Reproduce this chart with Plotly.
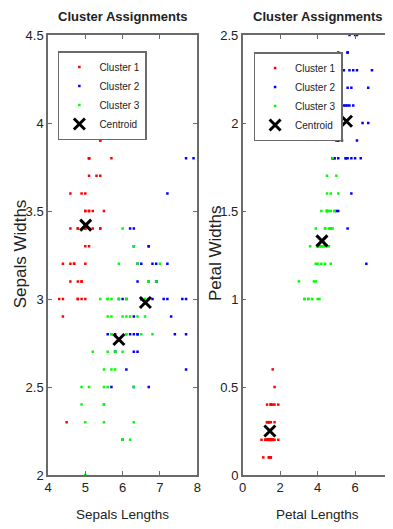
import plotly.graph_objects as go

# Iris measurements as shown in the chart (sample 106 plotted with petal width 1.2)
sepal_length = [
    5.1, 4.9, 4.7, 4.6, 5.0, 5.4, 4.6, 5.0, 4.4, 4.9, 5.4, 4.8, 4.8, 4.3, 5.8, 5.7, 5.4, 5.1, 5.7, 5.1,
    5.4, 5.1, 4.6, 5.1, 4.8, 5.0, 5.0, 5.2, 5.2, 4.7, 4.8, 5.4, 5.2, 5.5, 4.9, 5.0, 5.5, 4.9, 4.4, 5.1,
    5.0, 4.5, 4.4, 5.0, 5.1, 4.8, 5.1, 4.6, 5.3, 5.0,
    7.0, 6.4, 6.9, 5.5, 6.5, 5.7, 6.3, 4.9, 6.6, 5.2, 5.0, 5.9, 6.0, 6.1, 5.6, 6.7, 5.6, 5.8, 6.2, 5.6,
    5.9, 6.1, 6.3, 6.1, 6.4, 6.6, 6.8, 6.7, 6.0, 5.7, 5.5, 5.5, 5.8, 6.0, 5.4, 6.0, 6.7, 6.3, 5.6, 5.5,
    5.5, 6.1, 5.8, 5.0, 5.6, 5.7, 5.7, 6.2, 5.1, 5.7,
    6.3, 5.8, 7.1, 6.3, 6.5, 7.6, 4.9, 7.3, 6.7, 7.2, 6.5, 6.4, 6.8, 5.7, 5.8, 6.4, 6.5, 7.7, 7.7, 6.0,
    6.9, 5.6, 7.7, 6.3, 6.7, 7.2, 6.2, 6.1, 6.4, 7.2, 7.4, 7.9, 6.4, 6.3, 6.1, 7.7, 6.3, 6.4, 6.0, 6.9,
    6.7, 6.9, 5.8, 6.8, 6.7, 6.7, 6.3, 6.5, 6.2, 5.9,
]
sepal_width = [
    3.5, 3.0, 3.2, 3.1, 3.6, 3.9, 3.4, 3.4, 2.9, 3.1, 3.7, 3.4, 3.0, 3.0, 4.0, 4.4, 3.9, 3.5, 3.8, 3.8,
    3.4, 3.7, 3.6, 3.3, 3.4, 3.0, 3.4, 3.5, 3.4, 3.2, 3.1, 3.4, 4.1, 4.2, 3.1, 3.2, 3.5, 3.6, 3.0, 3.4,
    3.5, 2.3, 3.2, 3.5, 3.8, 3.0, 3.8, 3.2, 3.7, 3.3,
    3.2, 3.2, 3.1, 2.3, 2.8, 2.8, 3.3, 2.4, 2.9, 2.7, 2.0, 3.0, 2.2, 2.9, 2.9, 3.1, 3.0, 2.7, 2.2, 2.5,
    3.2, 2.8, 2.5, 2.8, 2.9, 3.0, 2.8, 3.0, 2.9, 2.6, 2.4, 2.4, 2.7, 2.7, 3.0, 3.4, 3.1, 2.3, 3.0, 2.5,
    2.6, 3.0, 2.6, 2.3, 2.7, 3.0, 2.9, 2.9, 2.5, 2.8,
    3.3, 2.7, 3.0, 2.9, 3.0, 3.0, 2.5, 2.9, 2.5, 3.6, 3.2, 2.7, 3.0, 2.5, 2.8, 3.2, 3.0, 3.8, 2.6, 2.2,
    3.2, 2.8, 2.8, 2.7, 3.3, 3.2, 2.8, 3.0, 2.8, 3.0, 2.8, 3.8, 2.8, 2.8, 2.6, 3.0, 3.4, 3.1, 3.0, 3.1,
    3.1, 3.1, 2.7, 3.2, 3.3, 3.0, 2.5, 3.0, 3.4, 3.0,
]
petal_length = [
    1.4, 1.4, 1.3, 1.5, 1.4, 1.7, 1.4, 1.5, 1.4, 1.5, 1.5, 1.6, 1.4, 1.1, 1.2, 1.5, 1.3, 1.4, 1.7, 1.5,
    1.7, 1.5, 1.0, 1.7, 1.9, 1.6, 1.6, 1.5, 1.4, 1.6, 1.6, 1.5, 1.5, 1.4, 1.5, 1.2, 1.3, 1.4, 1.3, 1.5,
    1.3, 1.3, 1.3, 1.6, 1.9, 1.4, 1.6, 1.4, 1.5, 1.4,
    4.7, 4.5, 4.9, 4.0, 4.6, 4.5, 4.7, 3.3, 4.6, 3.9, 3.5, 4.2, 4.0, 4.7, 3.6, 4.4, 4.5, 4.1, 4.5, 3.9,
    4.8, 4.0, 4.9, 4.7, 4.3, 4.4, 4.8, 5.0, 4.5, 3.5, 3.8, 3.7, 3.9, 5.1, 4.5, 4.5, 4.7, 4.4, 4.1, 4.0,
    4.4, 4.6, 4.0, 3.3, 4.2, 4.2, 4.2, 4.3, 3.0, 4.1,
    6.0, 5.1, 5.9, 5.6, 5.8, 6.6, 4.5, 6.3, 5.8, 6.1, 5.1, 5.3, 5.5, 5.0, 5.1, 5.3, 5.5, 6.7, 6.9, 5.0,
    5.7, 4.9, 6.7, 4.9, 5.7, 6.0, 4.8, 4.9, 5.6, 5.8, 6.1, 6.4, 5.6, 5.1, 5.6, 6.1, 5.6, 5.5, 4.8, 5.4,
    5.6, 5.1, 5.1, 5.9, 5.7, 5.2, 5.0, 5.2, 5.4, 5.1,
]
petal_width = [
    0.2, 0.2, 0.2, 0.2, 0.2, 0.4, 0.3, 0.2, 0.2, 0.1, 0.2, 0.2, 0.1, 0.1, 0.2, 0.4, 0.4, 0.3, 0.3, 0.3,
    0.2, 0.4, 0.2, 0.5, 0.2, 0.2, 0.4, 0.2, 0.2, 0.2, 0.2, 0.4, 0.1, 0.2, 0.2, 0.2, 0.2, 0.1, 0.2, 0.2,
    0.3, 0.3, 0.2, 0.6, 0.4, 0.3, 0.2, 0.2, 0.2, 0.2,
    1.4, 1.5, 1.5, 1.3, 1.5, 1.3, 1.6, 1.0, 1.3, 1.4, 1.0, 1.5, 1.0, 1.4, 1.3, 1.4, 1.5, 1.0, 1.5, 1.1,
    1.8, 1.3, 1.5, 1.2, 1.3, 1.4, 1.4, 1.7, 1.5, 1.0, 1.1, 1.0, 1.2, 1.6, 1.5, 1.6, 1.5, 1.3, 1.3, 1.3,
    1.2, 1.4, 1.2, 1.0, 1.3, 1.2, 1.3, 1.3, 1.1, 1.3,
    2.5, 1.9, 2.1, 1.8, 2.2, 1.2, 1.7, 1.8, 1.8, 2.5, 2.0, 1.9, 2.1, 2.0, 2.4, 2.3, 1.8, 2.2, 2.3, 1.5,
    2.3, 2.0, 2.0, 1.8, 2.1, 1.8, 1.8, 1.8, 2.1, 1.6, 1.9, 2.0, 2.2, 1.5, 1.4, 2.3, 2.4, 1.8, 1.8, 2.1,
    2.4, 2.3, 1.9, 2.3, 2.5, 2.3, 1.9, 2.0, 2.3, 1.8,
]
cluster = [
    1, 1, 1, 1, 1, 1, 1, 1, 1, 1, 1, 1, 1, 1, 1, 1, 1, 1, 1, 1,
    1, 1, 1, 1, 1, 1, 1, 1, 1, 1, 1, 1, 1, 1, 1, 1, 1, 1, 1, 1,
    1, 1, 1, 1, 1, 1, 1, 1, 1, 1,
    3, 3, 3, 3, 3, 3, 3, 3, 3, 3, 3, 3, 3, 3, 3, 3, 3, 3, 3, 3,
    3, 3, 3, 3, 3, 3, 3, 3, 3, 3, 3, 3, 3, 3, 3, 3, 3, 3, 3, 3,
    3, 3, 3, 3, 3, 3, 3, 3, 3, 3,
    2, 2, 2, 2, 2, 2, 3, 2, 2, 2, 2, 2, 2, 2, 2, 2, 2, 2, 2, 2,
    2, 2, 2, 2, 2, 2, 2, 2, 2, 2, 2, 2, 2, 2, 2, 2, 2, 2, 2, 2,
    2, 2, 2, 2, 2, 2, 2, 2, 2, 2,
]
cluster_names = ["Cluster 1", "Cluster 2", "Cluster 3"]
cluster_colors = ["#ff0000", "#0000ff", "#00ff00"]
centroid_sepal_length = [5.01, 6.61, 5.90]
centroid_sepal_width = [3.42, 2.98, 2.77]
centroid_petal_length = [1.45, 5.54, 4.23]
centroid_petal_width = [0.25, 2.01, 1.33]

FONT = "Liberation Sans, Arial, sans-serif"
AX = "#6a6a6a"
TXT = "#222222"

fig = go.Figure()

panels = [
    ("x", "y", "legend", sepal_length, sepal_width, centroid_sepal_length, centroid_sepal_width),
    ("x2", "y2", "legend2", petal_length, petal_width, centroid_petal_length, centroid_petal_width),
]
for xa, ya, lg, xs, ys, cx, cy in panels:
    for k, (name, col) in enumerate(zip(cluster_names, cluster_colors), start=1):
        px = [a for a, c in zip(xs, cluster) if c == k]
        py = [b for b, c in zip(ys, cluster) if c == k]
        fig.add_trace(go.Scatter(
            x=px, y=py, mode="markers", name=name, xaxis=xa, yaxis=ya, legend=lg,
            marker=dict(color=col, size=2.5, symbol="square", line=dict(width=0)),
        ))
    fig.add_trace(go.Scatter(
        x=cx, y=cy, mode="markers", name="Centroid", xaxis=xa, yaxis=ya, legend=lg,
        marker=dict(color="black", size=11, symbol="x-thin", line=dict(color="black", width=3)),
    ))

# page body adds an 8px offset; work in screen pixels and convert
OFF = 8
W, H = 393 - OFF, 529 - OFF
L, T = 48 - OFF, 35 - OFF
BOT = 475 - OFF
B = H - BOT
pw = W - L
ph = BOT - T

def fx(s):  # screen x -> paper x
    return (s - OFF - L) / pw

def fy(s):  # screen y -> paper y
    return 1 - (s - OFF - T) / ph

axis_common = dict(
    showgrid=False, zeroline=False, showline=True, linecolor=AX, linewidth=1.5,
    ticks="inside", ticklen=4, tickcolor=AX, tickwidth=1,
    tickfont=dict(family=FONT, size=13, color=TXT),
)

legend_common = dict(
    xanchor="left", yanchor="top", bgcolor="white", bordercolor=AX, borderwidth=1.5,
    font=dict(family=FONT, size=10, color=TXT), tracegroupgap=0,
)

fig.update_layout(
    width=W, height=H,
    margin=dict(l=L, r=0, t=T, b=B),
    plot_bgcolor="white", paper_bgcolor="white",
    xaxis=dict(domain=[0, fx(199)], range=[4, 8], tickvals=[4, 5, 6, 7, 8],
               mirror="ticks", **axis_common),
    yaxis=dict(range=[2, 4.5], tickvals=[2, 2.5, 3, 3.5, 4, 4.5], mirror="ticks", **axis_common),
    xaxis2=dict(domain=[fx(245), 1], range=[0, 7.81], tickvals=[0, 2, 4, 6],
                anchor="y2", mirror="ticks", **axis_common),
    yaxis2=dict(range=[0, 2.5], tickvals=[0, 0.5, 1, 1.5, 2, 2.5], anchor="x2",
                mirror=False, **axis_common),
    legend=dict(x=fx(58), y=fy(51), **legend_common),
    legend2=dict(x=fx(256), y=fy(52), **legend_common),
    showlegend=True,
)

annos = [
    dict(text="<b>Cluster Assignments</b>", x=fx(123.5), y=fy(17), size=13, ang=0),
    dict(text="<b>Cluster Assignments</b>", x=fx(321.5), y=fy(17), size=13, ang=0),
    dict(text="Sepals Lengths", x=fx(123), y=fy(514), size=13.5, ang=0),
    dict(text="Petal Lengths", x=fx(321), y=fy(514), size=13.5, ang=0),
    dict(text="Sepals Widths", x=fx(20), y=fy(254), size=17, ang=-90),
    dict(text="Petal Widths", x=fx(217), y=fy(254), size=17, ang=-90),
]
for a in annos:
    fig.add_annotation(
        text=a["text"], x=a["x"], y=a["y"], xref="paper", yref="paper",
        xanchor="center", yanchor="middle", showarrow=False, textangle=a["ang"],
        font=dict(family=FONT, size=a["size"], color=TXT),
    )

fig.write_html("out.html")
